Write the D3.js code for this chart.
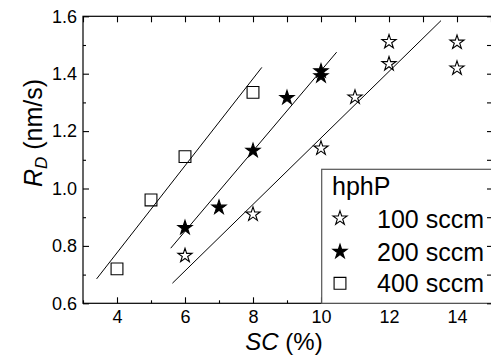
<!DOCTYPE html>
<html>
<head>
<meta charset="utf-8">
<script src="https://cdn.jsdelivr.net/npm/d3@7/dist/d3.min.js"></script>
<style>
  html, body { margin: 0; padding: 0; background: #fff; }
  svg { display: block; font-family: "Liberation Sans", Arial, sans-serif; }
</style>
</head>
<body>
<svg id="chart" width="491" height="356"></svg>
<script>
// Deposition rate R_D versus SC for three hphP flows
const sc100 = [6, 8, 10, 11, 12, 12, 14, 14];
const rd100 = [0.766, 0.91, 1.14, 1.318, 1.434, 1.511, 1.419, 1.509];

const sc200 = [6, 7, 8, 9, 10, 10];
const rd200 = [0.863, 0.934, 1.132, 1.316, 1.392, 1.409];

const sc400 = [4, 5, 6, 8];
const rd400 = [0.72, 0.96, 1.111, 1.335];

// Linear guide lines: [x1, y1, x2, y2]
const fit100 = [5.63, 0.670, 13.53, 1.585];
const fit200 = [5.58, 0.792, 10.46, 1.475];
const fit400 = [3.40, 0.685, 8.26, 1.422];

const xMajor = [4, 6, 8, 10, 12, 14];
const xMinor = [3, 5, 7, 9, 11, 13, 15];
const yMajor = [0.6, 0.8, 1.0, 1.2, 1.4, 1.6];
const yMinor = [0.7, 0.9, 1.1, 1.3, 1.5];

const legendTitle = "hphP";
const legendLabels = ["100 sccm", "200 sccm", "400 sccm"];

const svg = d3.select("#chart");
const L = 83, R = 491, T = 16.3, B = 303.3;

const x = d3.scaleLinear().domain([3, 15]).range([L, R]);
const y = d3.scaleLinear().domain([0.6, 1.6]).range([B, T]);

// Frame
svg.append("rect")
  .attr("x", L).attr("y", T)
  .attr("width", R - L + 1).attr("height", B - T)
  .attr("fill", "none").attr("stroke", "#000").attr("stroke-width", 1.2);

function styleAxis(g) {
  g.select(".domain").remove();
  g.selectAll(".tick line").attr("stroke", "#000").attr("stroke-width", 1.1);
}

// Bottom axis with labels
svg.append("g").attr("transform", `translate(0,${B})`)
  .call(d3.axisBottom(x).tickValues(xMajor).tickSize(-6).tickPadding(7)
    .tickFormat(d3.format("d")))
  .call(styleAxis)
  .call(g => g.selectAll("text").attr("font-size", 18).attr("fill", "#000")
    .attr("font-family", "Liberation Sans, Arial, sans-serif"));
svg.append("g").attr("transform", `translate(0,${B})`)
  .call(d3.axisBottom(x).tickValues(xMinor).tickSize(-3).tickFormat(""))
  .call(styleAxis);

// Top axis
svg.append("g").attr("transform", `translate(0,${T})`)
  .call(d3.axisTop(x).tickValues(xMajor).tickSize(-6).tickFormat(""))
  .call(styleAxis);
svg.append("g").attr("transform", `translate(0,${T})`)
  .call(d3.axisTop(x).tickValues(xMinor).tickSize(-6).tickFormat(""))
  .call(styleAxis);

// Left axis with labels
svg.append("g").attr("transform", `translate(${L},0)`)
  .call(d3.axisLeft(y).tickValues(yMajor).tickSize(-6).tickPadding(6)
    .tickFormat(d3.format(".1f")))
  .call(styleAxis)
  .call(g => g.selectAll("text").attr("font-size", 18).attr("fill", "#000")
    .attr("font-family", "Liberation Sans, Arial, sans-serif"));
svg.append("g").attr("transform", `translate(${L},0)`)
  .call(d3.axisLeft(y).tickValues(yMinor).tickSize(-3).tickFormat(""))
  .call(styleAxis);

// Guide lines
[fit100, fit200, fit400].forEach(f => {
  svg.append("line")
    .attr("x1", x(f[0])).attr("y1", y(f[1]))
    .attr("x2", x(f[2])).attr("y2", y(f[3]))
    .attr("stroke", "#000").attr("stroke-width", 1);
});

const star = d3.symbol().type(d3.symbolStar).size(62);
const square = d3.symbol().type(d3.symbolSquare).size(140);

function plot(xs, ys, sym, fill) {
  svg.append("g").selectAll("path")
    .data(xs.map((v, i) => [v, ys[i]]))
    .join("path")
    .attr("d", sym)
    .attr("transform", d => `translate(${x(d[0])},${y(d[1])})`)
    .attr("fill", fill)
    .attr("stroke", "#000")
    .attr("stroke-width", 1.1);
}

plot(sc400, rd400, square, "none");
plot(sc100, rd100, star, "#fff");
plot(sc200, rd200, star, "#000");

// Legend
const lg = svg.append("g");
lg.append("rect")
  .attr("x", 321.7).attr("y", 169.3)
  .attr("width", 200).attr("height", B - 169.3)
  .attr("fill", "#fff").attr("stroke", "#555").attr("stroke-width", 1.2);
lg.append("text").attr("x", 332).attr("y", 195)
  .attr("font-size", 25).attr("fill", "#000").text(legendTitle);

const legendRows = [
  { y: 218.3, sym: star, fill: "#fff", tb: 228 },
  { y: 251.7, sym: star, fill: "#000", tb: 260.5 },
  { y: 283.3, sym: square, fill: "none", tb: 292 }
];
legendRows.forEach((r, i) => {
  lg.append("path").attr("d", r.sym)
    .attr("transform", `translate(340,${r.y})`)
    .attr("fill", r.fill).attr("stroke", "#000").attr("stroke-width", 1.1);
  lg.append("text").attr("x", 377).attr("y", r.tb)
    .attr("font-size", 25).attr("fill", "#000").text(legendLabels[i]);
});

// Right axis (drawn over the legend)
svg.append("g").attr("transform", `translate(${R + 1},0)`)
  .call(d3.axisRight(y).tickValues(yMajor.concat(yMinor)).tickSize(-5).tickFormat(""))
  .call(styleAxis);

// Axis titles
const xt = svg.append("text")
  .attr("x", (L + R) / 2 - 3).attr("y", 350)
  .attr("text-anchor", "middle").attr("font-size", 24).attr("fill", "#000");
xt.append("tspan").attr("font-style", "italic").text("SC");
xt.append("tspan").text(" (%)");

const yt = svg.append("text")
  .attr("transform", "translate(42,133) rotate(-90)")
  .attr("text-anchor", "middle").attr("font-size", 25).attr("fill", "#000");
yt.append("tspan").attr("font-style", "italic").text("R");
yt.append("tspan").attr("font-style", "italic").attr("font-size", 17).attr("dy", 5).text("D");
yt.append("tspan").attr("dy", -5).text(" (nm/s)");
</script>
</body>
</html>
